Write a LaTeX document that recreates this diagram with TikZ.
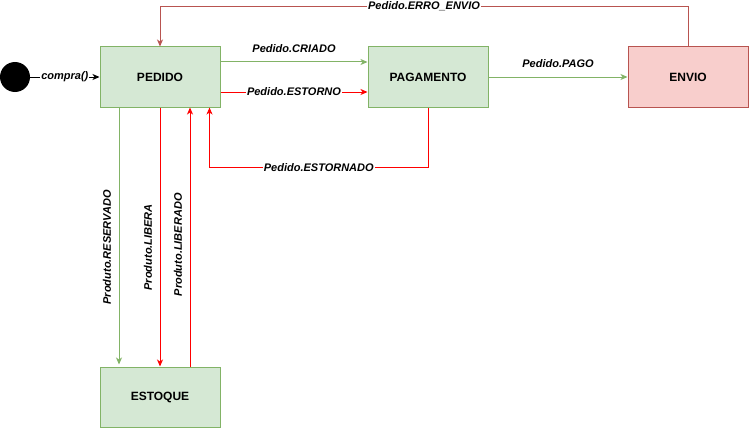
\documentclass[tikz,border=0pt]{standalone}
\usepackage{fontspec}
\setmainfont{Liberation Sans}
\usepackage{xcolor}
\usetikzlibrary{arrows.meta}

\definecolor{boxgreen}{HTML}{D5E8D4}
\definecolor{linegreen}{HTML}{82B366}
\definecolor{boxred}{HTML}{F8CECC}
\definecolor{linered}{HTML}{B85450}
\definecolor{pure red}{HTML}{FF0000}

\begin{document}
\begin{tikzpicture}[x=1pt, y=-1pt,
    statebox/.style={draw, line width=1pt, minimum width=120pt, minimum height=60pt,
        font=\fontsize{12pt}{14pt}\selectfont\bfseries},
    greenbox/.style={statebox, draw=linegreen, fill=boxgreen},
    redbox/.style={statebox, draw=linered, fill=boxred},
    flow/.style={line width=1pt, -{Stealth[length=7pt, width=6pt, inset=2pt]}},
    lbl/.style={font=\fontsize{11pt}{13pt}\selectfont\bfseries\itshape, inner sep=1pt, text=black},
    onlbl/.style={lbl, fill=white}]
    \useasboundingbox (0,0) rectangle (749,428);

    % States
    \node[circle, fill=black, minimum size=30pt, inner sep=0pt] (start) at (15,77) {};
    \node[greenbox] (pedido) at (160,77) {PEDIDO};
    \node[greenbox] (pagamento) at (428,77) {PAGAMENTO};
    \node[redbox] (envio) at (688,77) {ENVIO};
    \node[greenbox] (estoque) at (160,397) {ESTOQUE};

    % Start
    \draw[flow, black] (start) -- (pedido.west) node[midway, onlbl] {compra()};

    % Pedido <-> Pagamento
    \draw[flow, linegreen] ([yshift=15pt]pedido.east) -- ([yshift=15pt]pagamento.west)
        node[midway, lbl, above=8pt] {Pedido.CRIADO};
    \draw[flow, pure red] ([yshift=-15pt]pedido.east) -- ([yshift=-15pt]pagamento.west)
        node[midway, onlbl] {Pedido.ESTORNO};
    \draw[flow, pure red] (pagamento.south) -- ++(0,60) -| ([xshift=-11pt]pedido.south east)
        node[pos=0.25, onlbl] {Pedido.ESTORNADO};

    % Pagamento -> Envio
    \draw[flow, linegreen] (pagamento.east) -- (envio.west)
        node[midway, lbl, above=8pt] {Pedido.PAGO};
    \draw[flow, linered] (envio.north) -- ++(0,-40) -| (pedido.north)
        node[pos=0.25, onlbl] {Pedido.ERRO\_ENVIO};

    % Pedido <-> Estoque
    \draw[flow, linegreen, shorten >=2pt] ([xshift=-41pt]pedido.south) -- ([xshift=-41pt]estoque.north)
        node[pos=0.54, lbl, rotate=90, anchor=south, outer sep=7pt] {Produto.RESERVADO};
    \draw[flow, pure red] (pedido.south) -- (estoque.north)
        node[pos=0.54, lbl, rotate=90, anchor=south, outer sep=7pt] {Produto.LIBERA};
    \draw[flow, pure red] ([xshift=30pt]estoque.north) -- ([xshift=30pt]pedido.south)
        node[pos=0.47, lbl, rotate=90, anchor=south, outer sep=7pt] {Produto.LIBERADO};
\end{tikzpicture}
\end{document}
